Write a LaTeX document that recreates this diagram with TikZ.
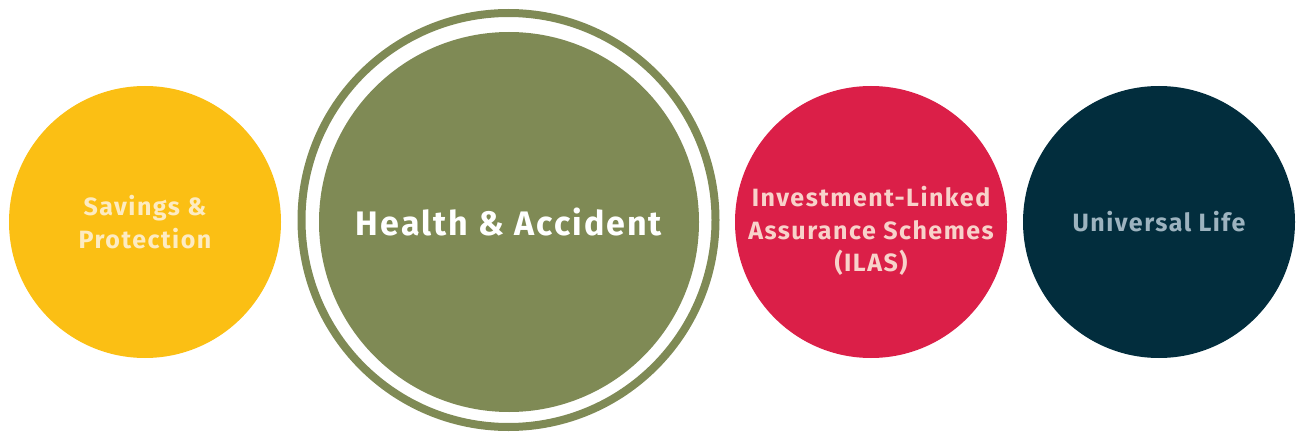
\documentclass[tikz,border=0pt]{standalone}
\usepackage{fontspec}
\setmainfont{Fira Sans}
\newfontfamily\labelfont{Fira Sans}[LetterSpace=6]
\definecolor{savegold}{HTML}{FBBF14}
\definecolor{savetext}{HTML}{FDEBC2}
\definecolor{healthgreen}{HTML}{7F8A55}
\definecolor{ilasred}{HTML}{DB1F48}
\definecolor{ilastext}{HTML}{F8D2CA}
\definecolor{lifenavy}{HTML}{022D3D}
\definecolor{lifetext}{HTML}{9DB3BF}
\tikzset{
  plan/.style={circle, inner sep=0pt, align=center, font=\labelfont\bfseries\fontsize{25}{32.5}\selectfont},
}
\begin{document}
\begin{tikzpicture}[x=1pt,y=1pt]
      \useasboundingbox (0,0) rectangle (1296,432);
      \node[plan, fill=savegold, text=savetext, minimum size=272pt] (savings) at (145,210) {Savings \&\\Protection};
      \node[circle, draw=healthgreen, line width=8pt, minimum size=414pt, inner sep=0pt] (ring) at (508.5,212) {};
      \node[plan, fill=healthgreen, text=white, minimum size=380pt, font=\labelfont\bfseries\fontsize{34}{40}\selectfont] (health) at (509,210) {Health \& Accident};
      \node[plan, fill=ilasred, minimum size=272pt] (ilas) at (871,210) {};
      \node[plan, text=ilastext] (ilaslabel) at ([yshift=-9pt]ilas.center) {Investment-Linked\\Assurance Schemes\\(ILAS)};
      \node[plan, fill=lifenavy, text=lifetext, minimum size=272pt] (life) at (1159,210) {Universal Life};
\end{tikzpicture}
\end{document}
